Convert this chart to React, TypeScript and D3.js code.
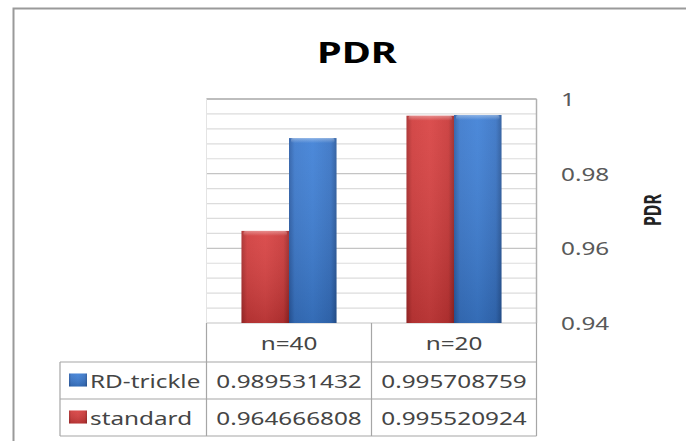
import React from "react";
import * as d3 from "d3";

const categories = ["n=40", "n=20"];
const seriesNames = ["standard", "RD-trickle"];
const standardValues = [0.964666808, 0.995520924];
const rdTrickleValues = [0.989531432, 0.995708759];
const yTicks = [0.94, 0.96, 0.98, 1];
const title = "PDR";
const yAxisTitle = "PDR";

const W = 686;
const H = 441;
const FONT = "'Noto Sans', 'Open Sans', sans-serif";

const plotLeft = 206.5;
const plotRight = 536.5;
const plotTop = 99;
const plotBottom = 323;

function T({ x, y, anchor = "start", size, weight = "normal", fill = "#454545", rotate = 0, sx = 1.35, children }: any) {
  return (
    <text
      transform={`translate(${x},${y}) scale(${sx},1) rotate(${rotate})`}
      textAnchor={anchor}
      dominantBaseline="central"
      fontFamily={FONT}
      fontSize={size}
      fontWeight={weight}
      fill={fill}
    >
      {children}
    </text>
  );
}

export default function App() {
  const x0 = d3
    .scaleBand<string>()
    .domain(categories)
    .range([plotLeft, plotRight])
    .paddingInner(0.424)
    .paddingOuter(0.212);
  const x1 = d3.scaleBand<string>().domain(seriesNames).range([0, x0.bandwidth()]).padding(0);
  const y = d3.scaleLinear().domain([0.94, 1]).range([plotBottom, plotTop]);
  const gridVals = d3.range(0, 16).map((i) => +(0.94 + i * 0.004).toFixed(3));
  const valuesBy: Record<string, number[]> = {
    standard: standardValues,
    "RD-trickle": rdTrickleValues,
  };
  const colorId: Record<string, string> = { standard: "gRed", "RD-trickle": "gBlue" };

  const step = x0.step();
  const colEdges = categories.map((_, i) => plotLeft + i * step).concat([plotLeft + categories.length * step]);
  const headerTop = plotBottom;
  const headerBottom = 362;
  const rowH = 37;
  const tableRows = ["RD-trickle", "standard"];
  const legendLeft = 60;

  return (
    <svg width={W} height={H} style={{ position: "absolute", left: 0, top: 0, background: "#fff" }}>
      <defs>
        <linearGradient id="gRed" x1="0" x2="1" y1="0" y2="0">
          <stop offset="0" stopColor="#a82a2a" />
          <stop offset="0.12" stopColor="#d03a3a" />
          <stop offset="0.5" stopColor="#d84040" />
          <stop offset="0.88" stopColor="#c93636" />
          <stop offset="1" stopColor="#9c2626" />
        </linearGradient>
        <linearGradient id="gBlue" x1="0" x2="1" y1="0" y2="0">
          <stop offset="0" stopColor="#2a5ca6" />
          <stop offset="0.12" stopColor="#3a78cc" />
          <stop offset="0.5" stopColor="#3d7fd6" />
          <stop offset="0.88" stopColor="#3672c4" />
          <stop offset="1" stopColor="#28589c" />
        </linearGradient>
        <linearGradient id="gShade" x1="0" x2="0" y1="0" y2="1">
          <stop offset="0" stopColor="#fff" stopOpacity="0.08" />
          <stop offset="1" stopColor="#000" stopOpacity="0.15" />
        </linearGradient>
        <linearGradient id="gTop" x1="0" x2="0" y1="0" y2="1">
          <stop offset="0" stopColor="#fff" stopOpacity="0.35" />
          <stop offset="1" stopColor="#fff" stopOpacity="0" />
        </linearGradient>
      </defs>

      {/* outer chart border */}
      <rect x={13.5} y={8.5} width={W} height={H} fill="#fff" stroke="#9a9a9a" strokeWidth={2} />

      {/* title */}
      <T x={357} y={52} anchor="middle" size={28} weight="bold" fill="#000" sx={1.42}>
        {title}
      </T>

      {/* gridlines */}
      {gridVals.map((v, i) => {
        const r = (v - 0.94) / 0.02;
        const major = Math.abs(r - Math.round(r)) < 1e-6;
        return (
          <line
            key={i}
            x1={plotLeft}
            x2={plotRight}
            y1={y(v)}
            y2={y(v)}
            stroke={major ? "#c4c4c4" : "#dcdcdc"}
            strokeWidth={1.2}
          />
        );
      })}
      <line x1={plotLeft} x2={plotRight} y1={plotTop} y2={plotTop} stroke="#b0b0b0" strokeWidth={1.5} />
      <line x1={plotRight} x2={plotRight} y1={plotTop} y2={plotBottom} stroke="#b0b0b0" strokeWidth={1.5} />
      <line x1={plotLeft} x2={plotLeft} y1={plotTop} y2={plotBottom} stroke="#e4e4e4" strokeWidth={1} />

      {/* bars */}
      {categories.map((c, ci) =>
        seriesNames.map((s) => {
          const v = valuesBy[s][ci];
          const bx = (x0(c) as number) + (x1(s) as number);
          const bw = x1.bandwidth();
          const by = y(v);
          const bh = plotBottom - by;
          return (
            <g key={c + s}>
              <rect x={bx} y={by} width={bw} height={bh} fill={`url(#${colorId[s]})`} />
              <rect x={bx} y={by} width={bw} height={bh} fill="url(#gShade)" />
              <rect x={bx + 2} y={by} width={bw - 4} height={5} rx={2} fill="url(#gTop)" />
            </g>
          );
        })
      )}

      {/* y axis tick labels (right) */}
      {yTicks.map((t) => (
        <T key={t} x={561} y={y(t)} size={18} fill="#595959">
          {d3.format("~g")(t)}
        </T>
      ))}

      {/* y axis title */}
      <T x={652} y={210} anchor="middle" size={16} weight="bold" fill="#222" rotate={-90} sx={1.42}>
        {yAxisTitle}
      </T>

      {/* data table */}
      <g stroke="#a6a6a6" strokeWidth={1.2} fill="none">
        <line x1={legendLeft} x2={plotRight} y1={headerBottom} y2={headerBottom} />
        <line x1={legendLeft} x2={plotRight} y1={headerBottom + rowH} y2={headerBottom + rowH} />
        <line x1={legendLeft} x2={plotRight} y1={headerBottom + 2 * rowH} y2={headerBottom + 2 * rowH} />
        <line x1={legendLeft} x2={legendLeft} y1={headerBottom} y2={headerBottom + 2 * rowH} />
        {colEdges.map((cx, i) => (
          <line key={i} x1={cx} x2={cx} y1={headerTop} y2={headerBottom + 2 * rowH} />
        ))}
      </g>
      {categories.map((c, ci) => (
        <T key={c} x={(colEdges[ci] + colEdges[ci + 1]) / 2} y={(headerTop + headerBottom) / 2} anchor="middle" size={18}>
          {c}
        </T>
      ))}
      {tableRows.map((s, ri) => {
        const cy = headerBottom + ri * rowH + rowH / 2;
        return (
          <g key={s}>
            <rect x={69} y={cy - 7} width={18} height={13} fill={`url(#${colorId[s]})`} />
            <rect x={69} y={cy - 7} width={18} height={13} fill="url(#gShade)" />
            <T x={90} y={cy} size={18}>
              {s}
            </T>
            {categories.map((c, ci) => (
              <T key={c} x={(colEdges[ci] + colEdges[ci + 1]) / 2} y={cy} anchor="middle" size={18}>
                {String(valuesBy[s][ci])}
              </T>
            ))}
          </g>
        );
      })}
    </svg>
  );
}
